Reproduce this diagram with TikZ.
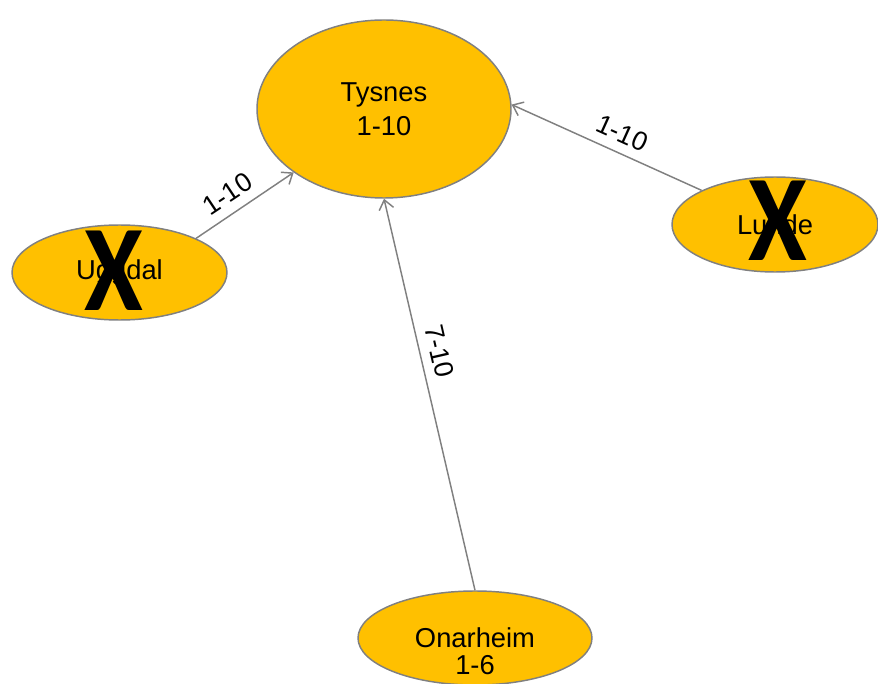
\documentclass[tikz,border=0pt]{standalone}
\usepackage{fontspec}
\setmainfont{Liberation Sans}
\newfontfamily\crossfont{Carlito}
\usetikzlibrary{shapes.geometric,arrows.meta}

\definecolor{townfill}{RGB}{255,192,0}
\definecolor{townline}{RGB}{128,128,128}

\tikzset{every picture/.style={line width=1.1pt}}
\tikzset{
  town/.style={ellipse,draw=townline,fill=townfill,inner sep=0pt,align=center,font=\fontsize{20.5}{25.5}\selectfont},
  townname/.style={inner sep=0pt,align=center,font=\fontsize{20.5}{20}\selectfont},
  link/.style={draw=townline,-{Straight Barb[length=7pt,width=11pt]}},
  linklabel/.style={anchor=south,inner sep=7pt,font=\fontsize{20}{20}\selectfont},
  cross/.style={inner sep=0pt,font=\crossfont\bfseries\fontsize{92}{92}\selectfont}
}

\begin{document}
\begin{tikzpicture}[x=0.75pt,y=0.75pt,yscale=-1,xscale=1]
\useasboundingbox (0,0) rectangle (878,684);

%Shape: Ellipse
\node [town,minimum width=190.5pt,minimum height=133.5pt] (tys) at (384,109) {Tysnes\\1-10};
%Shape: Ellipse
\node [town,minimum width=161.25pt,minimum height=71.25pt] (ugg) at (119.5,272.5) {Uggdal};
%Shape: Ellipse
\node [town,minimum width=154.5pt,minimum height=71.25pt] (lun) at (775,224.5) {Lunde};
%Shape: Ellipse
\node [town,minimum width=175.5pt,minimum height=70.5pt] (ona) at (475,638) {};

%Straight Lines
\draw [link] (ugg.north east) -- node [linklabel,rotate=33.7,pos=0.43] (lblugg) {1-10} (tys.south west);
%Straight Lines
\draw [link] (lun.north west) -- node [linklabel,rotate=-24.3,pos=0.46] (lbllun) {1-10} (tys.2);
%Straight Lines
\draw [link] (ona.north) -- node [linklabel,rotate=-77,pos=0.6] (lblona) {7-10} (tys.south);

% Text Node
\node [townname] (onaname) at (475,651) {Onarheim\\1-6};

% Text Node
\node [cross] (crossugg) at (114,271) {\scalebox{0.87}[1]{X}};
% Text Node
\node [cross] (crosslun) at (778,221) {\scalebox{0.87}[1]{X}};

\end{tikzpicture}
\end{document}
